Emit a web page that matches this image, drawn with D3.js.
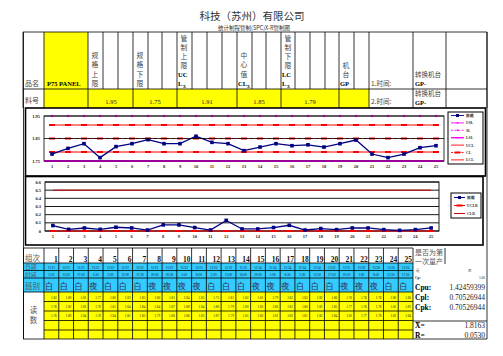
<!DOCTYPE html>
<html><head><meta charset="utf-8">
<script src="https://cdn.jsdelivr.net/npm/d3@7"></script>
<style>body{margin:0;background:#fff}svg{display:block}</style>
</head><body><svg id="c" width="503" height="356"></svg>
<script>
// ---------------- data ----------------
const title = "科技（苏州）有限公司";
const subtitle = "统计制程管制(SPC)X-R管制图";
const partName = "P75 PANEL";
const USL = 1.95, LSL = 1.75, UCLx = 1.91, CLx = 1.85, LCLx = 1.79;
const UCLr = 0.5, CLr = 0;
const categories = [1,2,3,4,5,6,7,8,9,10,11,12,13,14,15,16,17,18,19,20,21,22,23,24,25];
const xbarValues = [1.781,1.806,1.827,1.765,1.814,1.827,1.845,1.827,1.827,1.860,1.833,1.827,1.796,1.812,1.827,1.818,1.822,1.812,1.827,1.843,1.781,1.765,1.781,1.809,1.818];
const rangeValues = [0.067,0.020,0.037,0.020,0.046,0.037,0.012,0.075,0.075,0.042,0.012,0.130,0.025,0.025,0.042,0.070,0.012,0.030,0.017,0.037,0.037,0.017,0.008,0.017,0.037];
const xTicks1 = [1.75,1.85,1.95];
const xTickLabels1 = ["1.75","1.85","1.95"];
const yTicks2 = [0,0.1,0.2,0.3,0.4,0.5,0.6];
const yTickLabels2 = ["0","0.1","0.2","0.3","0.4","0.5","0.6"];
const dates = ["11/21","11/21","11/21","11/21","11/22","11/22","11/22","11/22","11/22","11/23","11/23","11/23","11/23","11/23","11/24","11/24","11/24","11/24","11/24","11/25","11/25","11/26","11/26","11/26","11/26"];
const times = ["2:30","13:30","17:30","2:30","3:30","12:00","17:30","20:00","20:30","2:30","8:30","2:30","13:00","16:00","20:30","1:00","8:30","2:30","13:30","17:30","20:30","1:00","8:30","13:30","17:30"];
const shifts = ["白","白","白","夜","白","白","白","夜","夜","夜","夜","白","白","白","夜","夜","夜","白","白","白","夜","夜","夜","白","白"];
const reading1 = ["1.82","1.80","1.81","1.77","1.80","1.83","1.85","1.86","1.81","1.84","1.83","1.75","1.81","1.82","1.81","1.79","1.82","1.83","1.82","1.86","1.76","1.76","1.78","1.80","1.80"];
const reading2 = ["1.76","1.82","1.83","1.76","1.81","1.84","1.84","1.84","1.87","1.88","1.84","1.86","1.79","1.80","1.85","1.86","1.82","1.80","1.83","1.83","1.77","1.76","1.78","1.81","1.81"];
const reading3 = ["1.76","1.80","1.84","1.76","1.84","1.81","1.85","1.79","1.80","1.86","1.83","1.87","1.79","1.81","1.82","1.81","1.83","1.81","1.83","1.84","1.81","1.77","1.78","1.81","1.84"];
const legend1 = ["数据","USL","SL","LSL","UCL","CL","LCL"];
const legend2 = ["数据","UCLR","CLR"];
const summaryLabels = ["Cpu:","Cpl:","Cpk:"];
const summaryValues = ["1.42459399","0.70526944","0.70526944"];
const cpValue = "1.06";
const xbarBar = "1.8163", rBar = "0.0530";

// ---------------- drawing ----------------
const svg = d3.select("#c");
svg.append("rect").attr("width",503).attr("height",356).attr("fill","#fff");
const FONT = "'Liberation Serif','Noto Sans CJK SC',serif";
const CJK = "'Noto Sans CJK SC',sans-serif";
function L(x1,y1,x2,y2,c="#000",w=0.8,dash=null){
  const l=svg.append("line").attr("x1",x1).attr("y1",y1).attr("x2",x2).attr("y2",y2).attr("stroke",c).attr("stroke-width",w);
  if(dash) l.attr("stroke-dasharray",dash); return l;}
function R(x,y,w,h,fill,stroke=null,sw=0.8){
  const r=svg.append("rect").attr("x",x).attr("y",y).attr("width",w).attr("height",h).attr("fill",fill||"none");
  if(stroke) r.attr("stroke",stroke).attr("stroke-width",sw); return r;}
function T(x,y,s,size,opt={}){
  return svg.append("text").attr("x",x).attr("y",y).text(s).attr("font-size",size)
    .attr("font-family",opt.font||FONT).attr("fill",opt.fill||"#222")
    .attr("text-anchor",opt.anchor||"start").attr("font-weight",opt.weight||"normal");}

// Titles
T(252,20,title,10.5,{anchor:"middle",font:CJK,fill:"#333"});
T(254,30,subtitle,5.5,{anchor:"middle",font:CJK,fill:"#333"});

// Header table
R(44,32,44,57,"#FFFF00");
R(44,89,325,19,"#FFFF00");
const row1V=[23,44,88,103,118,133,148,162,177,192,207,222,237,252,266,281,295,310,325,339,354,369,413,446,487];
row1V.forEach(x=>L(x,32,x,89));
const row2V=[23,44,88,133,177,237,281,339,369,413,446,487];
row2V.forEach(x=>L(x,89,x,108));
L(23,32,487,32); L(23,89,487,89);
T(25,86,"品名",7,{font:CJK,fill:"#444"});
T(47,86,partName,6.5,{weight:"bold",fill:"#000"});
function vert(x,y0,chars,step=9.3){chars.forEach((c,i)=>T(x,y0+i*step,c,6.8,{anchor:"middle",font:CJK,fill:"#444"}));}
vert(95,58,["规","格","上","限"]);
vert(140,58,["规","格","下","限"]);
vert(184,40.5,["管","制","上","限"]);
T(178,77,"UC",6.5,{weight:"bold",fill:"#000"});
T(178,86,"L",6.5,{weight:"bold",fill:"#000"}); T(183,88,"X",4,{weight:"bold",fill:"#000"});
vert(244,58,["中","心","值"]);
T(238,86,"CL",6.5,{weight:"bold",fill:"#000"}); T(247,88,"X",4,{weight:"bold",fill:"#000"});
vert(288,40.5,["管","制","下","限"]);
T(282,77,"LC",6.5,{weight:"bold",fill:"#000"});
T(282,86,"L",6.5,{weight:"bold",fill:"#000"}); T(287,88,"X",4,{weight:"bold",fill:"#000"});
vert(346,68,["机","台"]);
T(340,86,"GP",6.5,{weight:"bold",fill:"#000"});
T(371,86,"1.时间:",6.5,{font:CJK,fill:"#444"});
T(415,77,"转换机台",6.5,{font:CJK,fill:"#444"});
T(415,86,"GP-",6.5,{weight:"bold",fill:"#000"});
T(25,103,"料号",7,{font:CJK,fill:"#444"});
T(111,104,USL.toFixed(2),6.5,{anchor:"middle"});
T(155,104,LSL.toFixed(2),6.5,{anchor:"middle"});
T(207,104,UCLx.toFixed(2),6.5,{anchor:"middle"});
T(259,104,CLx.toFixed(2),6.5,{anchor:"middle"});
T(310,104,LCLx.toFixed(2),6.5,{anchor:"middle"});
T(371,104,"2.时间:",6.5,{font:CJK,fill:"#444"});
T(415,96,"转换机台",6.5,{font:CJK,fill:"#444"});
T(415,105,"GP-",6.5,{weight:"bold",fill:"#000"});

// Outer borders
L(23.5,32,23.5,339); L(487,32,487,339);
R(25.5,108,460,68,null,"#000",1.6);
R(25.5,176.5,457.5,68.5,null,"#000",1.6);

function markerSq(g,x,y,s,c){g.append("rect").attr("x",x-s/2).attr("y",y-s/2).attr("width",s).attr("height",s).attr("fill",c);}
function markerDash(g,x,y,c){g.append("rect").attr("x",x-3).attr("y",y-1).attr("width",6).attr("height",2).attr("fill",c);}

// ---------- Chart 1: X-bar ----------
const x1=d3.scaleBand().domain(categories).range([44,444]);
const y1=d3.scaleLinear().domain([1.75,1.95]).range([161,116]);
const cx1=d=>x1(d)+x1.bandwidth()/2;
const g1=svg.append("g");
xTicks1.forEach(v=>L(44,y1(v),444,y1(v),"#000",0.8));
g1.append("rect").attr("x",44).attr("y",116).attr("width",400).attr("height",45).attr("fill","none").attr("stroke","#000").attr("stroke-width",0.8);
xTicks1.forEach((v,i)=>T(40,y1(v)+1.5,xTickLabels1[i],4.5,{anchor:"end",weight:"bold"}));
categories.forEach(c=>T(cx1(c),168,String(c),4.5,{anchor:"middle",weight:"bold"}));
const ln1=d3.line().x((d,i)=>cx1(categories[i])).y(d=>y1(d));
function hline(g,val,color,w,dash){
  g.append("path").attr("d",ln1(categories.map(()=>val))).attr("fill","none").attr("stroke",color).attr("stroke-width",w).attr("stroke-dasharray",dash||null);}
hline(g1,LSL,"#FF00FF",2.2);
g1.append("line").attr("x1",44).attr("x2",444).attr("y1",y1(LSL)).attr("y2",y1(LSL)).attr("stroke","#FF00FF").attr("stroke-width",2);
categories.forEach(c=>markerSq(g1,cx1(c),y1(USL),2.2,"#FF00FF"));
hline(g1,UCLx,"#FF0000",1);
hline(g1,LCLx,"#FF0000",1);
hline(g1,CLx,"#FF0000",1.2,"3,3");
categories.forEach(c=>{markerDash(g1,cx1(c),y1(UCLx),"#FF0000");markerDash(g1,cx1(c),y1(LCLx),"#FF0000");markerDash(g1,cx1(c),y1(CLx),"#FF0000");});
g1.append("path").attr("d",ln1(xbarValues)).attr("fill","none").attr("stroke","#000080").attr("stroke-width",1.3);
xbarValues.forEach((v,i)=>markerSq(g1,cx1(categories[i]),y1(v),3.6,"#000080"));

// legend 1
R(448,112,35,52,"#fff","#000",1);
const lc1=["#000080","#FF00FF","#FF00FF","#FF00FF","#FF0000","#FF0000","#FF0000"];
legend1.forEach((s,i)=>{
  const y=115.5+i*7.4;
  L(451,y,464,y,lc1[i],i==3?1.4:0.9,i==2||i==5?"2,1.5":null);
  if(i==0) markerSq(svg,457.5,y,3,"#000080");
  else if(i<4) markerSq(svg,457.5,y,1.6,"#FF00FF");
  else if(i==5) markerDash(svg,457.5,y,"#FF0000");
  T(466,y+1.4,s,3.8,{font:i==0?CJK:FONT,weight:"bold",fill:"#333"});
});

// ---------- Chart 2: R ----------
const x2=d3.scaleBand().domain(categories).range([45,439]);
const y2=d3.scaleLinear().domain([0,0.6]).range([231,182]);
const cx2=d=>x2(d)+x2.bandwidth()/2;
const g2=svg.append("g");
yTicks2.forEach(v=>g2.append("line").attr("x1",45).attr("x2",439).attr("y1",y2(v)).attr("y2",y2(v)).attr("stroke","#000").attr("stroke-width",0.9));
g2.append("rect").attr("x",45).attr("y",182).attr("width",394).attr("height",49).attr("fill","none").attr("stroke","#000").attr("stroke-width",0.9);
yTicks2.forEach((v,i)=>T(41,y2(v)+1.5,yTickLabels2[i],4.5,{anchor:"end",weight:"bold"}));
categories.forEach(c=>T(cx2(c),237.5,String(c),4.5,{anchor:"middle",weight:"bold"}));
const ln2=d3.line().x((d,i)=>cx2(categories[i])).y(d=>y2(d));
g2.append("path").attr("d",ln2(categories.map(()=>UCLr))).attr("fill","none").attr("stroke","#CC0000").attr("stroke-width",1);
g2.append("path").attr("d",ln2(categories.map(()=>CLr))).attr("fill","none").attr("stroke","#FF0000").attr("stroke-width",1);
categories.forEach(c=>markerDash(g2,cx2(c),y2(CLr),"#FF0000"));
g2.append("path").attr("d",ln2(rangeValues)).attr("fill","none").attr("stroke","#000080").attr("stroke-width",1.3);
rangeValues.forEach((v,i)=>markerSq(g2,cx2(categories[i]),y2(v),3.6,"#000080"));

// legend 2
R(451,193,30,25,"#fff","#000",1);
const lc2=["#000080","#FF0000","#CC0000"];
legend2.forEach((s,i)=>{
  const y=197.5+i*8;
  L(454,y,465,y,lc2[i],1);
  if(i==0) markerSq(svg,459.5,y,3,"#000080");
  if(i==1) markerDash(svg,459.5,y,"#FF0000");
  T(467,y+1.4,s,3.8,{font:i==0?CJK:FONT,weight:"bold",fill:"#333"});
});

// ---------- Bottom table ----------
const xt=d3.scaleBand().domain(categories).range([44,413]);
R(23,263,390,29,"#33CCFF");
R(44,292,369,47,"#FFFF00");
const hRows=[248,263,270.5,278,292];
hRows.forEach(y=>L(23,y,413,y));
[301.5,311,320.5,330].forEach(y=>L(44,y,413,y));
L(23,339,487,339);
L(23.5,248,23.5,339);
categories.forEach(c=>L(xt(c),248,xt(c),339));
L(413,248,413,339);
T(25,261,"组次",7.5,{font:CJK,fill:"#555"});
T(25,269.3,"日期",5.8,{font:CJK,fill:"#555"});
T(25,277.3,"时间",5.8,{font:CJK,fill:"#555"});
T(25,289,"班别",7.5,{font:CJK,fill:"#555"});
T(33.5,313,"读",7.5,{font:CJK,fill:"#555",anchor:"middle"});
T(33.5,323,"数",7.5,{font:CJK,fill:"#555",anchor:"middle"});
const bw=xt.bandwidth();
categories.forEach((c,i)=>{
  const x0=xt(c);
  T(x0+bw-1,262,String(c),7.5,{anchor:"end",weight:"bold",fill:"#111"});
  T(x0+bw/2,268.8,dates[i],3.3,{anchor:"middle",fill:"#113"});
  T(x0+bw/2,276.2,times[i],3.3,{anchor:"middle",fill:"#113"});
  T(x0+1,289,shifts[i],8,{font:CJK,fill:"#335"});
  T(x0+bw-2,298.5,reading1[i],3.3,{anchor:"end",fill:"#222"});
  T(x0+bw-2,307.5,reading2[i],3.3,{anchor:"end",fill:"#222"});
  T(x0+bw-2,317,reading3[i],3.3,{anchor:"end",fill:"#222"});
});

// summary panel
L(445,248,445,264);
T(415,255,"是否为第",7,{font:CJK,fill:"#555"});
T(415,264,"一次量产",7,{font:CJK,fill:"#555"});
T(416,272,"是",3.5,{font:CJK,fill:"#555"});
T(468,272,"否",3.5,{font:CJK,fill:"#555"});
T(415,279,"Cp:",3.5,{weight:"bold"});
T(485,279,cpValue,3.5,{anchor:"end"});
summaryLabels.forEach((s,i)=>{
  T(415,290+i*10,s,7.5,{weight:"bold",fill:"#000"});
  T(485,290+i*10,summaryValues[i],7.5,{anchor:"end",fill:"#222"});
});
L(413,321,487,321);
T(415,328,"X̄=",7.5,{weight:"bold",fill:"#000"});
T(485,328,xbarBar,7.5,{anchor:"end",fill:"#222"});
T(415,338,"R̄=",7.5,{weight:"bold",fill:"#000"});
T(485,338,rBar,7.5,{anchor:"end",fill:"#222"});
</script></body></html>
